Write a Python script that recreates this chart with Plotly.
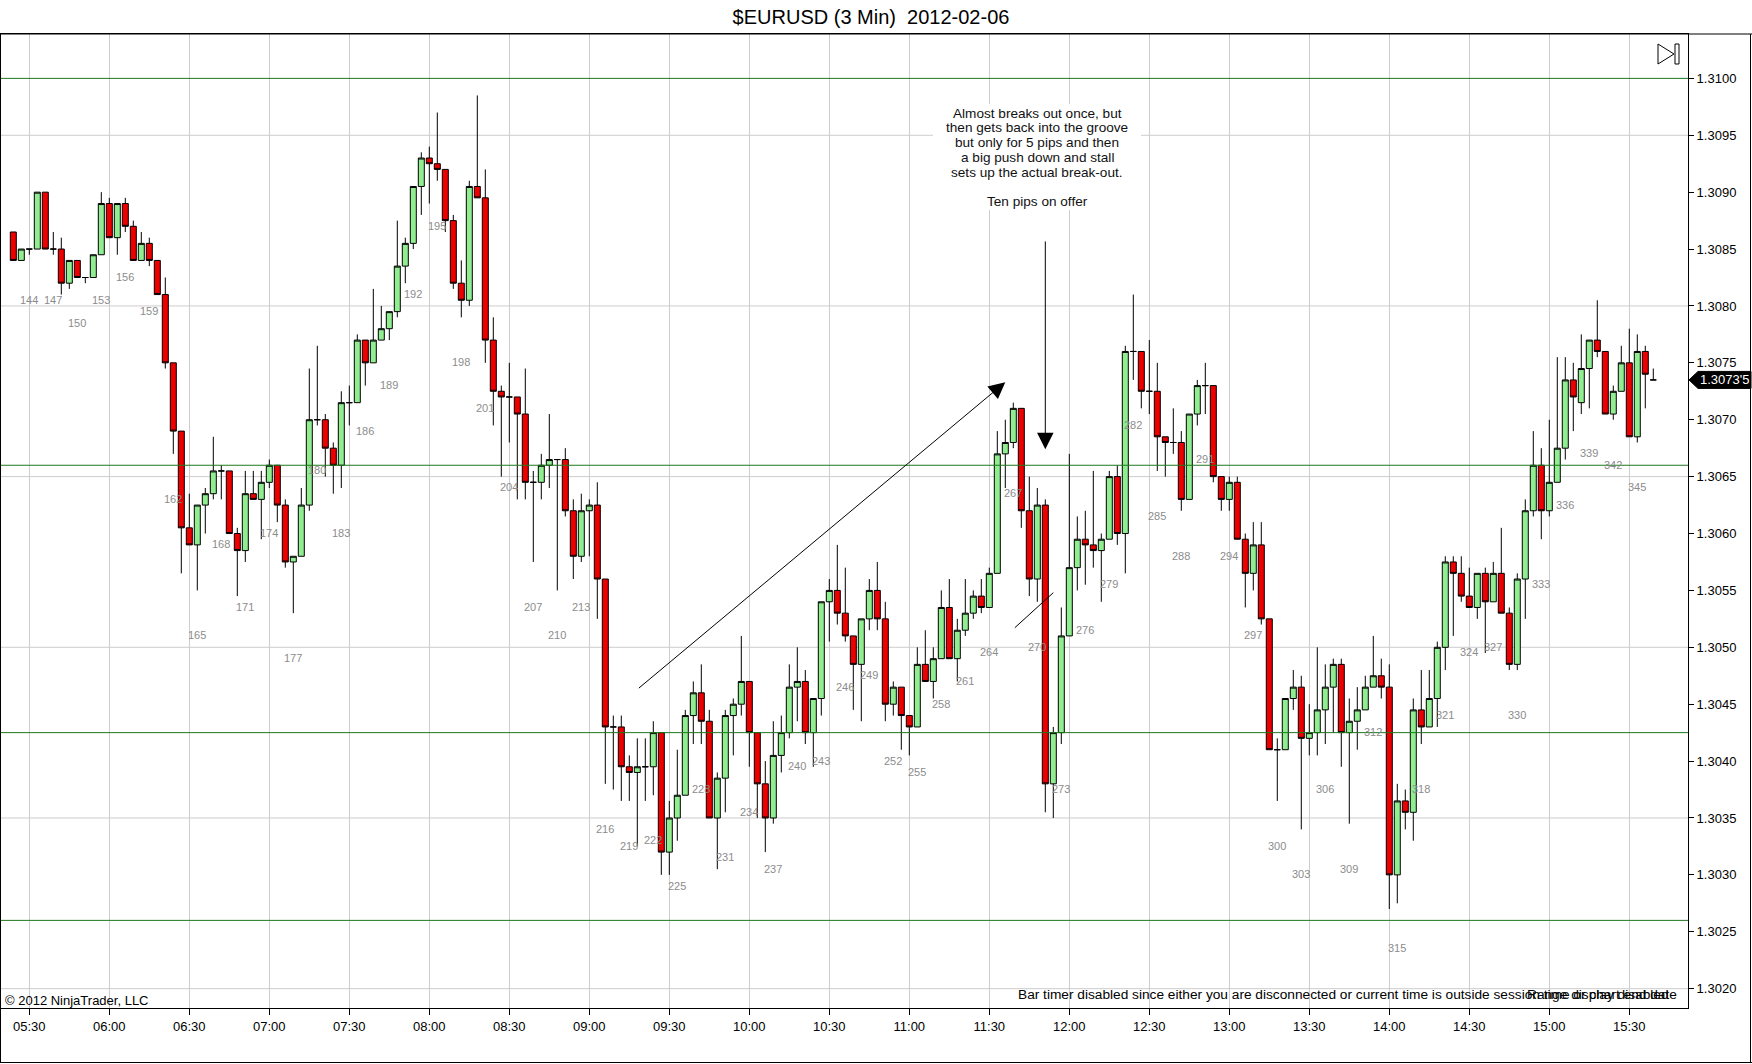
import plotly.graph_objects as go
import pandas as pd

# 3 minute EURUSD bars, numbered as on the chart (142 .. 347)
first_bar = 142
opens = [
    1.30865, 1.30840, 1.30850, 1.30850, 1.30900, 1.30850, 1.30850, 1.30820, 1.30840, 1.30825,
    1.30825, 1.30845, 1.30890, 1.30860, 1.30890, 1.30870, 1.30840, 1.30855, 1.30840, 1.30810,
    1.30750, 1.30690, 1.30605, 1.30590, 1.30625, 1.30635, 1.30655, 1.30655, 1.30600, 1.30585,
    1.30635, 1.30630, 1.30645, 1.30660, 1.30625, 1.30575, 1.30580, 1.30625, 1.30700, 1.30700,
    1.30675, 1.30660, 1.30715, 1.30715, 1.30770, 1.30750, 1.30770, 1.30780, 1.30795, 1.30835,
    1.30855, 1.30905, 1.30930, 1.30925, 1.30920, 1.30875, 1.30820, 1.30805, 1.30905, 1.30895,
    1.30770, 1.30725, 1.30720, 1.30720, 1.30705, 1.30645, 1.30645, 1.30660, 1.30665, 1.30665,
    1.30620, 1.30580, 1.30620, 1.30625, 1.30560, 1.30430, 1.30430, 1.30395, 1.30390, 1.30395,
    1.30395, 1.30425, 1.30320, 1.30350, 1.30370, 1.30440, 1.30460, 1.30435, 1.30350, 1.30385,
    1.30440, 1.30450, 1.30470, 1.30425, 1.30380, 1.30350, 1.30405, 1.30425, 1.30465, 1.30470,
    1.30425, 1.30455, 1.30540, 1.30550, 1.30530, 1.30510, 1.30485, 1.30525, 1.30550, 1.30525,
    1.30450, 1.30465, 1.30440, 1.30430, 1.30485, 1.30470, 1.30490, 1.30535, 1.30490, 1.30515,
    1.30530, 1.30545, 1.30535, 1.30565, 1.30670, 1.30680, 1.30710, 1.30620, 1.30560, 1.30625,
    1.30380, 1.30425, 1.30510, 1.30570, 1.30595, 1.30590, 1.30585, 1.30595, 1.30650, 1.30600,
    1.30760, 1.30760, 1.30725, 1.30725, 1.30685, 1.30680, 1.30680, 1.30630, 1.30705, 1.30730,
    1.30730, 1.30650, 1.30630, 1.30645, 1.30595, 1.30565, 1.30590, 1.30525, 1.30410, 1.30410,
    1.30455, 1.30465, 1.30420, 1.30425, 1.30445, 1.30465, 1.30485, 1.30425, 1.30435, 1.30445,
    1.30465, 1.30475, 1.30465, 1.30300, 1.30365, 1.30355, 1.30445, 1.30430, 1.30455, 1.30500,
    1.30575, 1.30565, 1.30545, 1.30535, 1.30565, 1.30540, 1.30565, 1.30530, 1.30485, 1.30560,
    1.30620, 1.30660, 1.30620, 1.30645, 1.30675, 1.30735, 1.30715, 1.30745, 1.30770, 1.30760,
    1.30705, 1.30725, 1.30750, 1.30685, 1.30760, 1.30735,
]
highs = [
    1.30865, 1.30850, 1.30850, 1.30900, 1.30900, 1.30865, 1.30860, 1.30840, 1.30840, 1.30825,
    1.30845, 1.30900, 1.30895, 1.30890, 1.30895, 1.30875, 1.30865, 1.30860, 1.30840, 1.30825,
    1.30750, 1.30690, 1.30635, 1.30625, 1.30640, 1.30685, 1.30660, 1.30655, 1.30605, 1.30655,
    1.30655, 1.30655, 1.30665, 1.30660, 1.30630, 1.30580, 1.30640, 1.30745, 1.30765, 1.30705,
    1.30680, 1.30725, 1.30730, 1.30775, 1.30770, 1.30815, 1.30800, 1.30795, 1.30875, 1.30860,
    1.30905, 1.30935, 1.30940, 1.30970, 1.30920, 1.30880, 1.30840, 1.30910, 1.30985, 1.30920,
    1.30790, 1.30730, 1.30750, 1.30720, 1.30745, 1.30655, 1.30670, 1.30705, 1.30665, 1.30675,
    1.30630, 1.30635, 1.30630, 1.30645, 1.30560, 1.30440, 1.30440, 1.30405, 1.30420, 1.30420,
    1.30435, 1.30425, 1.30365, 1.30410, 1.30445, 1.30470, 1.30485, 1.30445, 1.30390, 1.30445,
    1.30455, 1.30510, 1.30470, 1.30425, 1.30400, 1.30435, 1.30440, 1.30485, 1.30500, 1.30480,
    1.30455, 1.30540, 1.30560, 1.30590, 1.30570, 1.30510, 1.30525, 1.30560, 1.30575, 1.30540,
    1.30470, 1.30465, 1.30440, 1.30500, 1.30515, 1.30500, 1.30550, 1.30560, 1.30525, 1.30560,
    1.30550, 1.30560, 1.30570, 1.30690, 1.30700, 1.30715, 1.30710, 1.30650, 1.30640, 1.30630,
    1.30430, 1.30535, 1.30670, 1.30615, 1.30620, 1.30655, 1.30600, 1.30655, 1.30660, 1.30765,
    1.30810, 1.30760, 1.30770, 1.30750, 1.30685, 1.30710, 1.30690, 1.30705, 1.30735, 1.30750,
    1.30730, 1.30650, 1.30650, 1.30650, 1.30600, 1.30610, 1.30610, 1.30525, 1.30420, 1.30455,
    1.30480, 1.30475, 1.30450, 1.30500, 1.30485, 1.30490, 1.30490, 1.30455, 1.30465, 1.30475,
    1.30510, 1.30490, 1.30485, 1.30380, 1.30375, 1.30455, 1.30480, 1.30480, 1.30505, 1.30580,
    1.30580, 1.30580, 1.30570, 1.30565, 1.30570, 1.30575, 1.30605, 1.30535, 1.30565, 1.30630,
    1.30690, 1.30675, 1.30700, 1.30755, 1.30755, 1.30750, 1.30775, 1.30770, 1.30805, 1.30760,
    1.30730, 1.30765, 1.30780, 1.30775, 1.30765, 1.30745,
]
lows = [
    1.30840, 1.30840, 1.30845, 1.30850, 1.30850, 1.30845, 1.30810, 1.30815, 1.30825, 1.30820,
    1.30825, 1.30845, 1.30860, 1.30845, 1.30865, 1.30840, 1.30840, 1.30835, 1.30810, 1.30745,
    1.30670, 1.30565, 1.30590, 1.30550, 1.30600, 1.30630, 1.30630, 1.30600, 1.30545, 1.30575,
    1.30630, 1.30595, 1.30640, 1.30610, 1.30570, 1.30530, 1.30580, 1.30620, 1.30695, 1.30650,
    1.30635, 1.30640, 1.30695, 1.30715, 1.30730, 1.30750, 1.30770, 1.30770, 1.30790, 1.30820,
    1.30850, 1.30880, 1.30890, 1.30910, 1.30865, 1.30815, 1.30790, 1.30800, 1.30895, 1.30750,
    1.30695, 1.30650, 1.30680, 1.30630, 1.30630, 1.30575, 1.30630, 1.30640, 1.30550, 1.30615,
    1.30560, 1.30575, 1.30580, 1.30525, 1.30380, 1.30375, 1.30365, 1.30365, 1.30325, 1.30365,
    1.30370, 1.30300, 1.30300, 1.30330, 1.30370, 1.30415, 1.30415, 1.30350, 1.30305, 1.30355,
    1.30405, 1.30440, 1.30395, 1.30350, 1.30320, 1.30345, 1.30390, 1.30420, 1.30435, 1.30415,
    1.30395, 1.30440, 1.30505, 1.30520, 1.30505, 1.30445, 1.30435, 1.30515, 1.30515, 1.30435,
    1.30440, 1.30410, 1.30405, 1.30430, 1.30470, 1.30455, 1.30490, 1.30490, 1.30470, 1.30510,
    1.30525, 1.30530, 1.30535, 1.30565, 1.30640, 1.30675, 1.30605, 1.30545, 1.30540, 1.30355,
    1.30350, 1.30415, 1.30510, 1.30550, 1.30555, 1.30570, 1.30540, 1.30595, 1.30590, 1.30565,
    1.30735, 1.30710, 1.30705, 1.30655, 1.30650, 1.30670, 1.30620, 1.30630, 1.30695, 1.30705,
    1.30645, 1.30620, 1.30620, 1.30595, 1.30535, 1.30550, 1.30520, 1.30410, 1.30365, 1.30410,
    1.30445, 1.30340, 1.30405, 1.30405, 1.30415, 1.30425, 1.30395, 1.30345, 1.30410, 1.30445,
    1.30465, 1.30455, 1.30270, 1.30275, 1.30340, 1.30330, 1.30415, 1.30430, 1.30430, 1.30480,
    1.30510, 1.30540, 1.30535, 1.30525, 1.30495, 1.30540, 1.30530, 1.30480, 1.30480, 1.30525,
    1.30615, 1.30595, 1.30615, 1.30645, 1.30665, 1.30690, 1.30705, 1.30710, 1.30755, 1.30705,
    1.30700, 1.30725, 1.30685, 1.30680, 1.30710, 1.30735,
]
closes = [
    1.30840, 1.30850, 1.30850, 1.30900, 1.30850, 1.30850, 1.30820, 1.30840, 1.30825, 1.30825,
    1.30845, 1.30890, 1.30860, 1.30890, 1.30870, 1.30840, 1.30855, 1.30840, 1.30810, 1.30750,
    1.30690, 1.30605, 1.30590, 1.30625, 1.30635, 1.30655, 1.30655, 1.30600, 1.30585, 1.30635,
    1.30630, 1.30645, 1.30660, 1.30625, 1.30575, 1.30580, 1.30625, 1.30700, 1.30700, 1.30675,
    1.30660, 1.30715, 1.30715, 1.30770, 1.30750, 1.30770, 1.30780, 1.30795, 1.30835, 1.30855,
    1.30905, 1.30930, 1.30925, 1.30920, 1.30875, 1.30820, 1.30805, 1.30905, 1.30895, 1.30770,
    1.30725, 1.30720, 1.30720, 1.30705, 1.30645, 1.30645, 1.30660, 1.30665, 1.30665, 1.30620,
    1.30580, 1.30620, 1.30625, 1.30560, 1.30430, 1.30430, 1.30395, 1.30390, 1.30395, 1.30395,
    1.30425, 1.30320, 1.30350, 1.30370, 1.30440, 1.30460, 1.30435, 1.30350, 1.30385, 1.30440,
    1.30450, 1.30470, 1.30425, 1.30380, 1.30350, 1.30405, 1.30425, 1.30465, 1.30470, 1.30425,
    1.30455, 1.30540, 1.30550, 1.30530, 1.30510, 1.30485, 1.30525, 1.30550, 1.30525, 1.30450,
    1.30465, 1.30440, 1.30430, 1.30485, 1.30470, 1.30490, 1.30535, 1.30490, 1.30515, 1.30530,
    1.30545, 1.30535, 1.30565, 1.30670, 1.30680, 1.30710, 1.30620, 1.30560, 1.30625, 1.30380,
    1.30425, 1.30510, 1.30570, 1.30595, 1.30590, 1.30585, 1.30595, 1.30650, 1.30600, 1.30760,
    1.30760, 1.30725, 1.30725, 1.30685, 1.30680, 1.30680, 1.30630, 1.30705, 1.30730, 1.30730,
    1.30650, 1.30630, 1.30645, 1.30595, 1.30565, 1.30590, 1.30525, 1.30410, 1.30410, 1.30455,
    1.30465, 1.30420, 1.30425, 1.30445, 1.30465, 1.30485, 1.30425, 1.30435, 1.30445, 1.30465,
    1.30475, 1.30465, 1.30300, 1.30365, 1.30355, 1.30445, 1.30430, 1.30455, 1.30500, 1.30575,
    1.30565, 1.30545, 1.30535, 1.30565, 1.30540, 1.30565, 1.30530, 1.30485, 1.30560, 1.30620,
    1.30660, 1.30620, 1.30645, 1.30675, 1.30735, 1.30720, 1.30745, 1.30770, 1.30760, 1.30705,
    1.30725, 1.30750, 1.30685, 1.30760, 1.30740, 1.30735,
]

bar_times = pd.date_range("2012-02-06 05:24", periods=len(opens), freq="3min")
bar_numbers = list(range(first_bar, first_bar + len(opens)))

# drawn horizontal lines and the price grid
key_levels = [1.3100, 1.3066, 1.30425, 1.3026]
grid_levels = [1.3020, 1.3035, 1.3050, 1.3065, 1.3080, 1.3095]
last_price = 1.30735
last_price_label = "1.3073'5"

note_lines = ["Almost breaks out once, but", "then gets back into the groove",
              "but only for 5 pips and then", "a big push down and stall",
              "sets up the actual break-out.", "", "Ten pips on offer"]

x_range = ["2012-02-06 05:19:23", "2012-02-06 15:52:01"]
y_range = [1.30183, 1.31039]

W, H = 1752, 1064
ML, MR, MT, MB = 1, 64, 34, 56
FONT = "Liberation Sans, Arial, sans-serif"


def px(x):
    return (x - ML) / (W - ML - MR)


def py(y):
    return (H - MB - y) / (H - MT - MB)


def price_to_paper(p):
    return (p - y_range[0]) / (y_range[1] - y_range[0])


fig = go.Figure()
fig.add_trace(go.Candlestick(
    x=bar_times, open=opens, high=highs, low=lows, close=closes,
    increasing=dict(fillcolor="#90EE90", line=dict(color="black", width=1)),
    decreasing=dict(fillcolor="#EE0000", line=dict(color="black", width=1)),
    whiskerwidth=0, showlegend=False, hoverinfo="x+y",
))

shapes = []
for lvl in grid_levels:
    shapes.append(dict(type="line", xref="paper", x0=0, x1=1, yref="y", y0=lvl, y1=lvl,
                       line=dict(color="#CDCDCD", width=1), layer="below"))
for lvl in key_levels:
    shapes.append(dict(type="line", xref="paper", x0=0, x1=1, yref="y", y0=lvl, y1=lvl,
                       line=dict(color="#1E781E", width=1)))

# white box behind the note
shapes.append(dict(type="rect", xref="paper", yref="paper",
                   x0=px(933), x1=px(1141), y0=py(210), y1=py(104),
                   fillcolor="white", line=dict(width=0), layer="above"))

# outer frame of the chart window
frame = dict(type="line", xref="paper", yref="paper", line=dict(color="black", width=1))
shapes.append(dict(frame, x0=px(0), x1=px(W), y0=1, y1=1))
shapes.append(dict(frame, x0=px(W - 1.5), x1=px(W - 1.5), y0=1, y1=py(H - 1.5)))
shapes.append(dict(frame, x0=px(0), x1=px(W), y0=py(H - 1.5), y1=py(H - 1.5)))
shapes.append(dict(frame, x0=px(0.5), x1=px(0.5), y0=1, y1=py(H - 1.5)))

# last price tag on the price axis
yc = price_to_paper(last_price)
hh = 8.5 / (H - MT - MB)
shapes.append(dict(type="path", xref="paper", yref="paper",
                   path=f"M {px(1689)},{yc} L {px(1698)},{yc + hh} L {px(1751)},{yc + hh} "
                        f"L {px(1751)},{yc - hh} L {px(1698)},{yc - hh} Z",
                   fillcolor="black", line=dict(color="black", width=1)))

# scroll-to-end button
shapes.append(dict(type="path", xref="paper", yref="paper",
                   path=f"M {px(1658)},{py(44)} L {px(1658)},{py(64)} L {px(1674)},{py(54)} Z",
                   line=dict(color="black", width=1)))
shapes.append(dict(type="rect", xref="paper", yref="paper",
                   x0=px(1675), x1=px(1679), y0=py(64), y1=py(44),
                   line=dict(color="black", width=1)))

annotations = []
for n, t, lo in zip(bar_numbers, bar_times, lows):
    if n % 3 == 0:
        annotations.append(dict(x=t, y=lo, text=str(n), showarrow=False, yshift=-45,
                                font=dict(family=FONT, size=11, color="#8C8C8C")))

for i, line in enumerate(note_lines):
    if line:
        annotations.append(dict(xref="paper", yref="paper", x=px(1037), y=py(113 + 14.8 * i),
                                xanchor="center", yanchor="middle", text=line, showarrow=False,
                                font=dict(family=FONT, size=13.6, color="#111111")))

arrow = dict(showarrow=True, axref="x", ayref="y", arrowcolor="black", arrowwidth=1,
             standoff=0, text="")
annotations.append(dict(arrow, x="2012-02-06 11:36", y=1.30733,
                        ax="2012-02-06 09:18", ay=1.30463, arrowhead=2, arrowsize=3.3))
annotations.append(dict(arrow, x="2012-02-06 11:51", y=1.30674,
                        ax="2012-02-06 11:51", ay=1.30858, arrowhead=2, arrowsize=3.3))
annotations.append(dict(arrow, x="2012-02-06 11:54", y=1.30548,
                        ax="2012-02-06 11:39", ay=1.30516, arrowhead=0))

annotations.append(dict(xref="paper", yref="paper", x=px(1724.5), y=yc, text=last_price_label,
                        xanchor="center", yanchor="middle", showarrow=False,
                        font=dict(family=FONT, size=13, color="white")))
annotations.append(dict(xref="paper", yref="paper", x=px(3), y=py(1000),
                        xanchor="left", yanchor="middle",
                        text="© 2012 NinjaTrader, LLC", showarrow=False,
                        font=dict(family=FONT, size=13, color="black")))
annotations.append(dict(xref="paper", yref="paper", x=px(1679), y=py(994),
                        xanchor="right", yanchor="middle",
                        text="Bar timer disabled since either you are disconnected or current "
                             "time is outside session time or chart end date",
                        showarrow=False, font=dict(family=FONT, size=13.7, color="black")))
annotations.append(dict(xref="paper", yref="paper", x=px(1671), y=py(994),
                        xanchor="right", yanchor="middle",
                        text="Range display disabled", showarrow=False,
                        font=dict(family=FONT, size=13.7, color="black")))

fig.update_layout(
    width=W, height=H,
    margin=dict(l=ML, r=MR, t=MT, b=MB),
    template="none",
    paper_bgcolor="white", plot_bgcolor="white",
    title=dict(text="$EURUSD (3 Min) \u00a02012-02-06", x=871 / W, y=1 - 17 / H,
               xanchor="center", yanchor="middle",
               font=dict(family=FONT, size=20, color="black")),
    boxgap=0.25, boxgroupgap=0,
    showlegend=False,
    shapes=shapes,
    annotations=annotations,
    xaxis=dict(type="date", range=x_range, rangeslider=dict(visible=False),
               tick0="2012-02-06 05:30", dtick=1800000, tickformat="%H:%M",
               ticks="outside", ticklen=6, tickcolor="black",
               showgrid=True, gridcolor="#CDCDCD", gridwidth=1, zeroline=False,
               showline=True, linecolor="black", linewidth=1, mirror=True,
               tickfont=dict(family=FONT, size=13, color="black")),
    yaxis=dict(range=y_range, side="right", tick0=1.3020, dtick=0.0005, tickformat=".4f",
               ticks="outside", ticklen=5, tickcolor="black",
               showgrid=False, zeroline=False,
               showline=True, linecolor="black", linewidth=1, mirror=True,
               tickfont=dict(family=FONT, size=13, color="black")),
)

# the page's default body margin would shift the chart off the window
fig.write_html("out.html", config={"displayModeBar": False},
               post_script="document.body.style.margin = '0';")
